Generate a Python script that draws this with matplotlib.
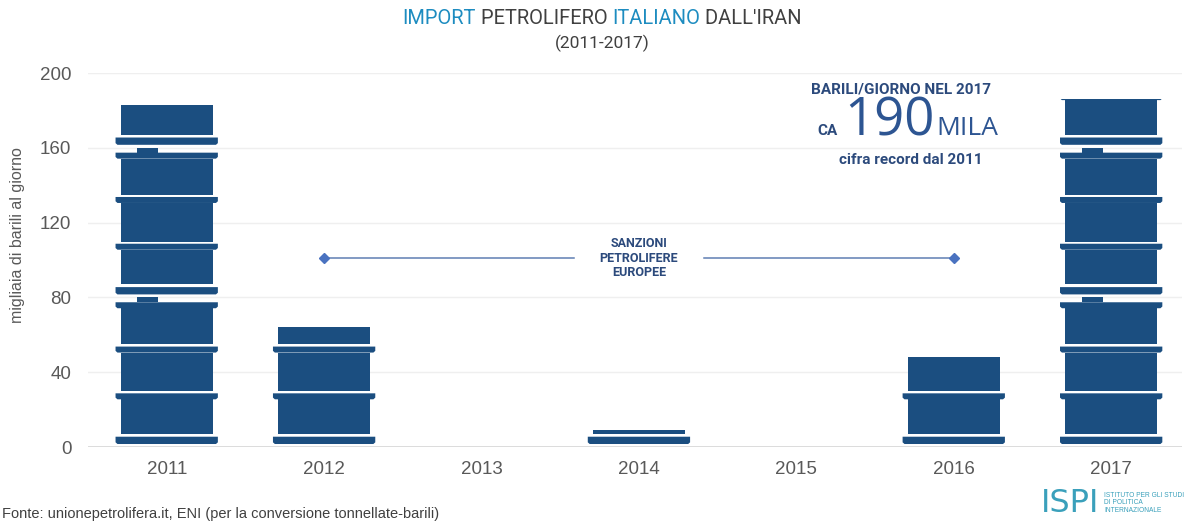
import numpy as np
import matplotlib.pyplot as plt
from matplotlib.patches import Polygon

years = ['2011', '2012', '2013', '2014', '2015', '2016', '2017']
barrels = [183, 64, 0, 9, 0, 48, 186]   # migliaia di barili al giorno
yticks = [0, 40, 80, 120, 160, 200]

NAVY = '#1b4e80'
GREY = '#595959'
TEAL = '#1d8cc0'
DARK = '#404040'
TXT = '#2c4a7c'
NARROW = ['Roboto', 'DejaVu Sans']

# one stacked barrel is 80 units tall: (bottom, top, kind)
BARREL = [(1.6, 5.5, 'rim'), (7.0, 25.5, 'body'), (25.5, 28.7, 'rim'),
          (29.8, 50.5, 'body'), (50.5, 53.7, 'rim'), (55.0, 74.2, 'body'),
          (74.2, 77.4, 'rim'), (77.4, 80.0, 'cap')]
BARREL_H = 80
BODY_HW = 0.292
RIM_HW = 0.325

plt.rcParams['font.family'] = ['Liberation Sans', 'DejaVu Sans']


def barrel_parts(xc, base):
    """Polygons of a single barrel standing at height base."""
    parts = []
    for y0, y1, kind in BARREL:
        y0 += base
        y1 += base
        if kind == 'body':
            pts = [(xc - BODY_HW, y0), (xc + BODY_HW, y0),
                   (xc + BODY_HW, y1), (xc - BODY_HW, y1)]
        elif kind == 'rim':
            c, d = 0.012, 0.9
            pts = [(xc - RIM_HW + c, y0), (xc + RIM_HW - c, y0),
                   (xc + RIM_HW, y0 + d), (xc + RIM_HW, y1),
                   (xc - RIM_HW, y1), (xc - RIM_HW, y0 + d)]
        else:
            pts = [(xc - 0.186, y0), (xc - 0.055, y0),
                   (xc - 0.055, y1), (xc - 0.186, y1)]
        parts.append(Polygon(pts, closed=True, facecolor=NAVY,
                             edgecolor='none', zorder=3))
    return parts


fig = plt.figure(figsize=(11.97, 5.22), dpi=100)
ax = fig.add_axes([88 / 1197, 1 - 447 / 522, (1182 - 88) / 1197, (447 - 73) / 522])

x = np.arange(len(years))
# invisible bars, used only to cut the barrel stacks at each value
bars = ax.bar(x, barrels, width=2 * RIM_HW + 0.01, color='none',
              edgecolor='none')
for xc, val, rect in zip(x, barrels, bars):
    n = int(np.ceil(val / BARREL_H))
    for k in range(n):
        for p in barrel_parts(xc, k * BARREL_H):
            ax.add_patch(p)
            p.set_clip_path(rect)

ax.set_xlim(-0.5, 6.45)
ax.set_ylim(0, 200)
ax.set_yticks(yticks)
ax.set_xticks(x)
ax.set_xticklabels(years)
ax.yaxis.grid(True, color='#efefef', lw=1)
ax.set_axisbelow(True)
ax.axhline(0, color='#d6d6d6', lw=1.2, zorder=1)
for s in ax.spines.values():
    s.set_visible(False)
ax.tick_params(length=0, labelsize=13.5, colors=GREY)
ax.tick_params(axis='y', pad=12)
ax.tick_params(axis='x', pad=10)

fig.text(18 / 1197, 1 - 235 / 522, 'migliaia di barili al giorno',
         rotation=90, ha='center', va='center', fontsize=11.5, color=GREY)

# sanctions period
ax.plot([1, 2.587], [101, 101], color='#5f7fb3', lw=1.1, zorder=2)
ax.plot([3.413, 5], [101, 101], color='#5f7fb3', lw=1.1, zorder=2)
ax.plot([1, 5], [101, 101], ls='none', marker='D', ms=5,
        color='#4a72c0', zorder=2)
ax.text(3, 101, 'SANZIONI\nPETROLIFERE\nEUROPEE', ha='center', va='center',
        fontsize=9, fontweight='bold', color=TXT, family=NARROW,
        linespacing=1.15)

# 2017 callout
fig.text(901 / 1197, 1 - 90 / 522, 'BARILI/GIORNO NEL 2017', ha='center',
         va='center', fontsize=11, fontweight='bold', color=TXT,
         family=NARROW)
base_y = 1 - 135 / 522
fig.text(889 / 1197, base_y, '190', ha='center', va='baseline',
         fontsize=38, color='#2d5592', family=['Open Sans', 'DejaVu Sans'])
fig.text(838 / 1197, base_y, 'CA', ha='right', va='baseline',
         fontsize=11, fontweight='bold', color=TXT, family=NARROW)
fig.text(936 / 1197, base_y, 'MILA', ha='left', va='baseline',
         fontsize=19, color='#2d5592', family=['Open Sans', 'DejaVu Sans'])
fig.text(911 / 1197, 1 - 160 / 522, 'cifra record dal 2011', ha='center',
         va='center', fontsize=11, fontweight='bold', color=TXT,
         family=NARROW)

# two-colour title, laid out piece by piece
pieces = [('IMPORT', TEAL), (' PETROLIFERO ', DARK), ('ITALIANO', TEAL),
          (" DALL'IRAN", DARK)]
renderer = fig.canvas.get_renderer()
texts = []
for s, c in pieces:
    texts.append(fig.text(0, 1 - 18 / 522, s, ha='left', va='center',
                          fontsize=14.5, color=c, family=NARROW))
widths = [t.get_window_extent(renderer).width for t in texts]
xpos = 602 - sum(widths) / 2
for t, w in zip(texts, widths):
    t.set_x(xpos / 1197)
    xpos += w
fig.text(602 / 1197, 1 - 43 / 522, '(2011-2017)', ha='center', va='center',
         fontsize=12.5, color=DARK, family=NARROW)

fig.text(2 / 1197, 1 / 522,
         'Fonte: unionepetrolifera.it, ENI (per la conversione tonnellate-barili)',
         ha='left', va='bottom', fontsize=10.5, color=DARK)

# ISPI logo
fig.text(1070 / 1197, 1 - 503 / 522, 'ISPI', ha='center', va='center',
         fontsize=23, color='#3aa0bb', family=['DejaVu Sans'])
fig.text(1104 / 1197, 1 - 503 / 522,
         'ISTITUTO PER GLI STUDI\nDI POLITICA\nINTERNAZIONALE', ha='left',
         va='center', fontsize=4.8, color='#3aa0bb', linespacing=1.1)

fig.savefig('out.png', dpi=100)
